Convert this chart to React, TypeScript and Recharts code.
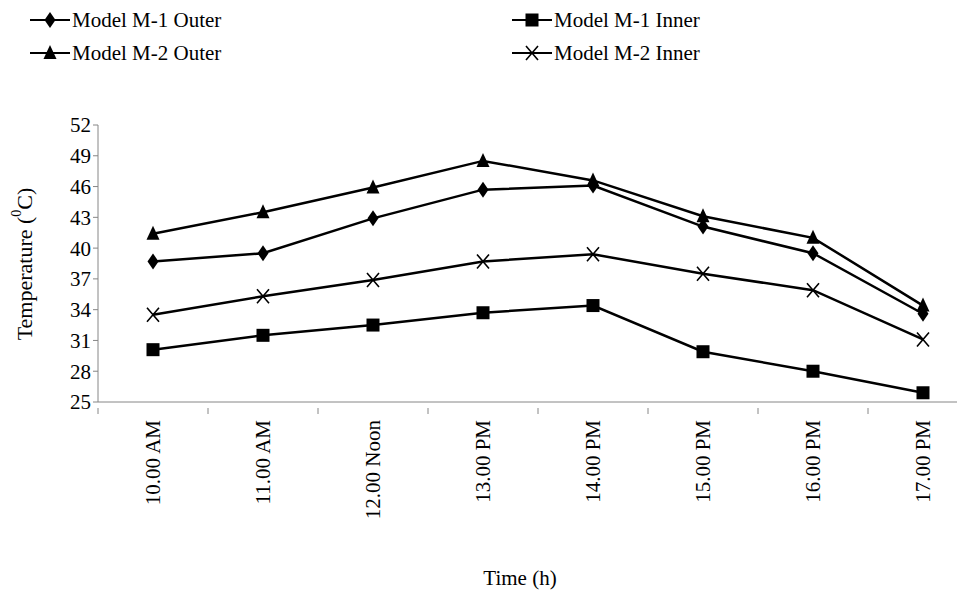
import React from 'react';
import { LineChart, Line, XAxis, YAxis } from 'recharts';

const times = ['10.00 AM', '11.00 AM', '12.00 Noon', '13.00 PM', '14.00 PM', '15.00 PM', '16.00 PM', '17.00 PM'];
const m1Outer = [38.7, 39.5, 42.9, 45.7, 46.1, 42.1, 39.5, 33.6];
const m1Inner = [30.1, 31.5, 32.5, 33.7, 34.4, 29.9, 28.0, 25.9];
const m2Outer = [41.4, 43.5, 45.9, 48.5, 46.6, 43.1, 41.0, 34.4];
const m2Inner = [33.5, 35.3, 36.9, 38.7, 39.4, 37.5, 35.9, 31.1];
const yTicks = [25, 28, 31, 34, 37, 40, 43, 46, 49, 52];

const data = times.map((t, i) => ({
  t,
  m1o: m1Outer[i],
  m1i: m1Inner[i],
  m2o: m2Outer[i],
  m2i: m2Inner[i],
}));

const FONT = '"Liberation Serif", "Times New Roman", serif';
const HALF = 55;

type Kind = 'diamond' | 'square' | 'triangle' | 'cross';

function Marker({ kind, cx, cy }: { kind: Kind; cx: number; cy: number }) {
  if (kind === 'diamond') return <path d={`M${cx},${cy - 8} L${cx + 5.5},${cy} L${cx},${cy + 8} L${cx - 5.5},${cy} Z`} fill="#000" />;
  if (kind === 'square') return <rect x={cx - 6.5} y={cy - 6.5} width={13} height={13} fill="#000" />;
  if (kind === 'triangle') return <path d={`M${cx},${cy - 8} L${cx + 6.5},${cy + 6} L${cx - 6.5},${cy + 6} Z`} fill="#000" />;
  return <path d={`M${cx - 6},${cy - 7} L${cx + 6},${cy + 7} M${cx + 6},${cy - 7} L${cx - 6},${cy + 7}`} stroke="#000" strokeWidth={1.6} />;
}

const dot = (kind: Kind) => (p: any) => <Marker key={p.index} kind={kind} cx={p.cx} cy={p.cy} />;

function XTick(p: any) {
  const top = p.y - 2;
  return (
    <g>
      <line x1={p.x - HALF} y1={top} x2={p.x - HALF} y2={top + 6} stroke="#868686" />
      {p.index === times.length - 1 && <line x1={p.x + HALF} y1={top} x2={p.x + HALF} y2={top + 6} stroke="#868686" />}
      <text x={p.x} y={p.y + 10} transform={`rotate(-90 ${p.x} ${p.y + 10})`} textAnchor="end" dominantBaseline="central" fontFamily={FONT} fontSize={21} fill="#000">
        {p.payload.value}
      </text>
    </g>
  );
}

function LegendItem({ kind, label, x, y }: { kind: Kind; label: string; x: number; y: number }) {
  return (
    <g>
      <line x1={x} y1={y} x2={x + 40} y2={y} stroke="#000" strokeWidth={2} />
      <Marker kind={kind} cx={x + 20} cy={y} />
      <text x={x + 42} y={y} dominantBaseline="central" fontFamily={FONT} fontSize={21} fill="#000">{label}</text>
    </g>
  );
}

export default function App() {
  return (
    <div style={{ margin: -8, width: 965, height: 598, overflow: 'hidden', position: 'relative', background: '#fff' }}>
      <LineChart width={978} height={598} data={data} margin={{ top: 125, right: 0, bottom: 0, left: 0 }}>
        <XAxis dataKey="t" height={196} stroke="#868686" tickLine={false} interval={0} tick={<XTick />} padding={{ left: HALF, right: HALF }} />
        <YAxis width={98} domain={[25, 52]} ticks={yTicks} interval={0} stroke="#868686" tickSize={5}
          tick={{ fontFamily: FONT, fontSize: 21, fill: '#000' }} />
        <Line dataKey="m1o" stroke="#000" strokeWidth={2.5} dot={dot('diamond')} isAnimationActive={false} />
        <Line dataKey="m1i" stroke="#000" strokeWidth={2.5} dot={dot('square')} isAnimationActive={false} />
        <Line dataKey="m2o" stroke="#000" strokeWidth={2.5} dot={dot('triangle')} isAnimationActive={false} />
        <Line dataKey="m2i" stroke="#000" strokeWidth={2.5} dot={dot('cross')} isAnimationActive={false} />
      </LineChart>
      <svg width={965} height={598} style={{ position: 'absolute', left: 0, top: 0, pointerEvents: 'none' }}>
        <LegendItem kind="diamond" label="Model M-1 Outer" x={30} y={20} />
        <LegendItem kind="square" label="Model M-1 Inner" x={512} y={20} />
        <LegendItem kind="triangle" label="Model M-2 Outer" x={30} y={53} />
        <LegendItem kind="cross" label="Model M-2 Inner" x={512} y={53} />
        <text transform="translate(24 264) rotate(-90)" textAnchor="middle" dominantBaseline="central" fontFamily={FONT} fontSize={22} fill="#000">
          Temperature (<tspan dy={-8} fontSize={14}>0</tspan><tspan dy={8}>C)</tspan>
        </text>
        <text x={520} y={578} textAnchor="middle" dominantBaseline="central" fontFamily={FONT} fontSize={21} fill="#000">Time (h)</text>
      </svg>
    </div>
  );
}
